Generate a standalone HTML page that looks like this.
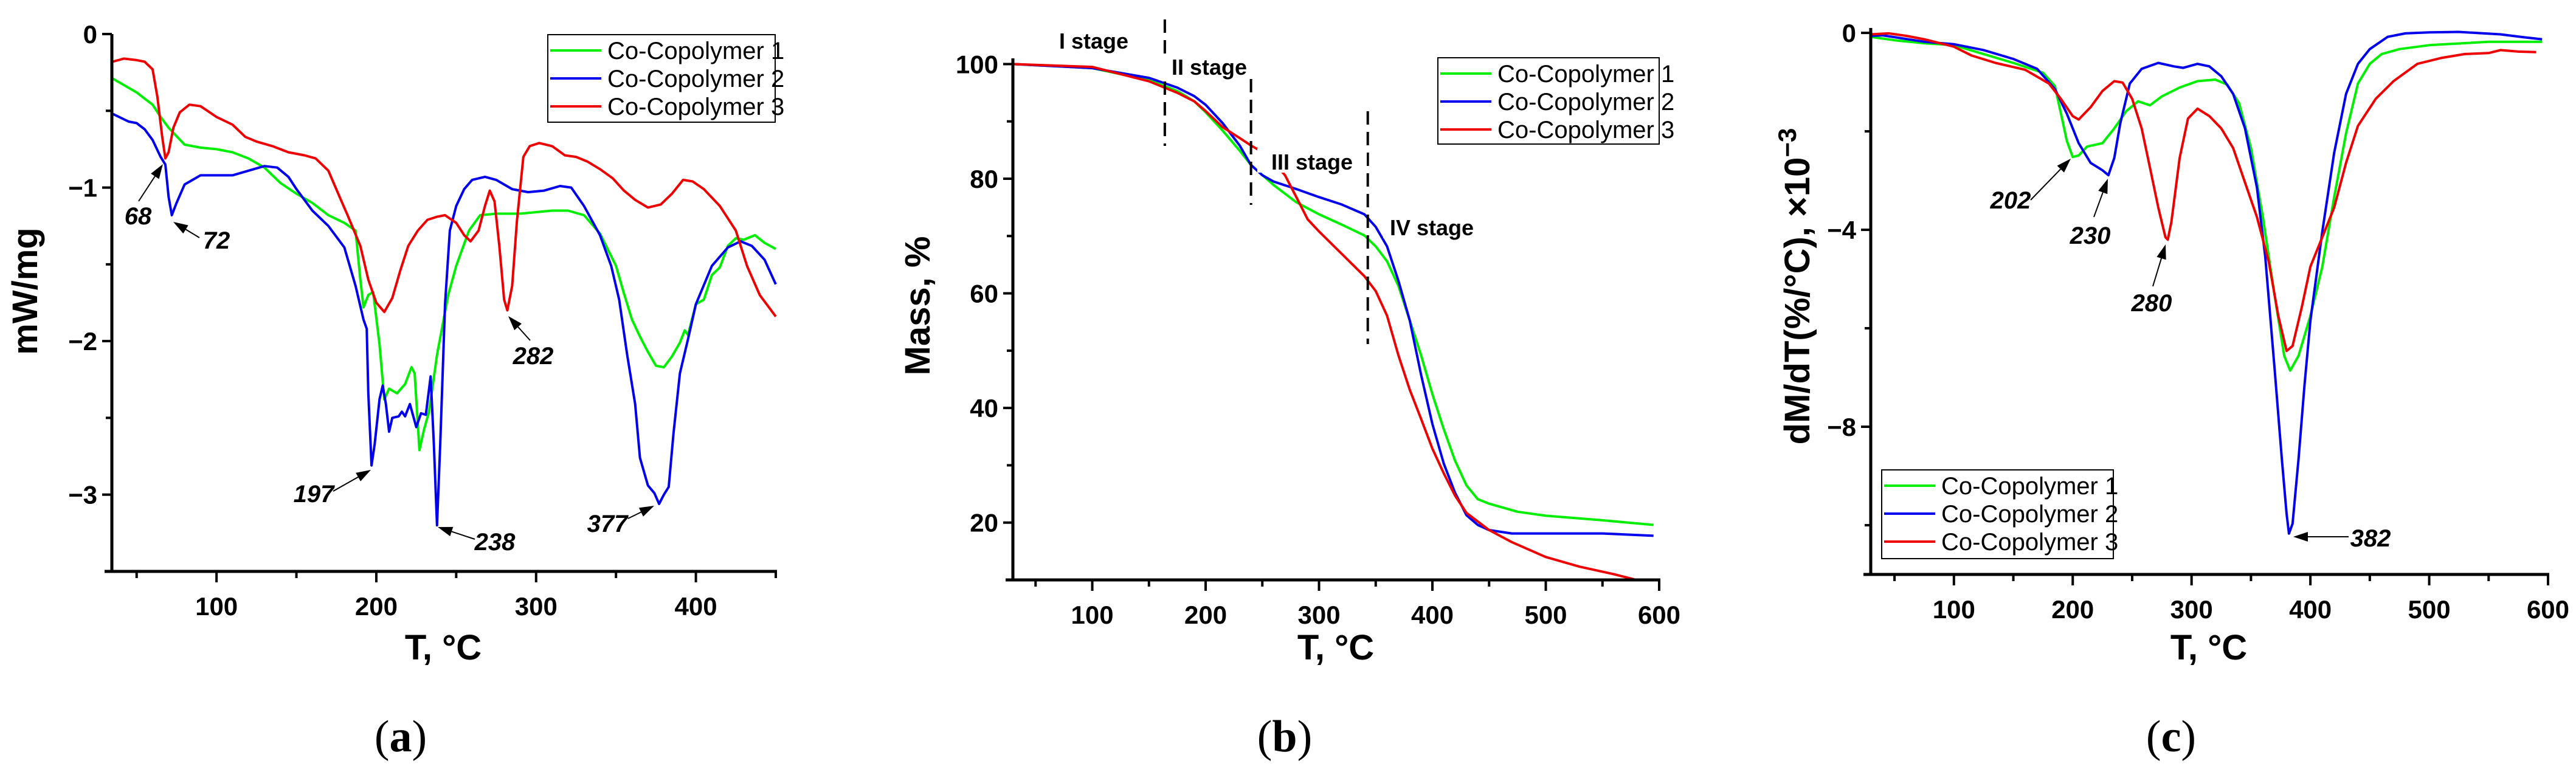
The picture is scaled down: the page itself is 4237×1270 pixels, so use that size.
<!DOCTYPE html>
<html><head><meta charset="utf-8"><style>
html,body{margin:0;padding:0;background:#fff;}
svg{display:block;}
.tick{font-family:"Liberation Sans Narrow","Liberation Sans",sans-serif;font-weight:bold;font-size:42px;fill:#000;}
.title{font-family:"Liberation Sans",sans-serif;font-weight:bold;font-size:58px;fill:#000;}
.leg{font-family:"Liberation Sans Narrow","Liberation Sans",sans-serif;font-size:40px;fill:#000;}
.ann{font-family:"Liberation Sans Narrow","Liberation Sans",sans-serif;font-weight:bold;font-style:italic;font-size:40px;fill:#000;}
.stage{font-family:"Liberation Sans",sans-serif;font-weight:bold;font-size:36px;fill:#000;}
.cap{font-family:"Liberation Serif",serif;font-size:74px;fill:#000;}
</style></head><body>
<svg id="fig" width="4237" height="1270" viewBox="0 0 4237 1270" xmlns="http://www.w3.org/2000/svg"></svg>
<script>
// ---- Panel (a) DSC data ----
const aT_g=[35,50,60,65,70,80,90,100,110,120,130,140,150,160,170,180,187,190,192,195,198,202,205,208,213,218,222,224,227,230,233,238,245,250,258,265,275,290,300,310,320,330,340,350,355,360,365,370,375,380,385,390,393,395,400,405,410,415,420,425,430,437,443,450];
const aV_g=[-0.29,-0.38,-0.46,-0.54,-0.61,-0.72,-0.74,-0.75,-0.77,-0.81,-0.87,-0.97,-1.04,-1.10,-1.18,-1.23,-1.28,-1.60,-1.78,-1.70,-1.68,-2.02,-2.38,-2.31,-2.34,-2.28,-2.17,-2.21,-2.71,-2.57,-2.46,-2.09,-1.70,-1.51,-1.28,-1.18,-1.17,-1.17,-1.16,-1.15,-1.15,-1.18,-1.30,-1.51,-1.69,-1.86,-1.97,-2.07,-2.16,-2.17,-2.10,-2.01,-1.93,-1.96,-1.76,-1.73,-1.57,-1.52,-1.38,-1.33,-1.34,-1.31,-1.36,-1.40];
const aT_b=[35,45,50,55,60,65,68,70,72,75,80,90,100,110,120,130,138,145,150,160,170,180,187,192,194,195,197,199,202,204,206,208,210,214,216,218,221,225,228,231,234,236,238,240,243,246,250,255,260,268,275,285,295,305,315,322,330,340,347,352,357,362,365,370,374,377,380,383,386,390,395,400,410,420,428,435,443,450];
const aV_b=[-0.52,-0.57,-0.58,-0.62,-0.69,-0.80,-0.85,-1.06,-1.18,-1.10,-0.98,-0.92,-0.92,-0.92,-0.89,-0.86,-0.87,-0.93,-1.01,-1.15,-1.25,-1.39,-1.64,-1.86,-1.92,-2.34,-2.81,-2.67,-2.38,-2.29,-2.41,-2.59,-2.50,-2.49,-2.46,-2.49,-2.41,-2.56,-2.47,-2.48,-2.23,-2.67,-3.20,-2.67,-1.76,-1.28,-1.12,-1.01,-0.95,-0.93,-0.95,-1.01,-1.03,-1.02,-0.99,-1.00,-1.12,-1.31,-1.51,-1.73,-2.09,-2.41,-2.76,-2.94,-2.99,-3.06,-3.00,-2.95,-2.60,-2.21,-1.99,-1.76,-1.51,-1.39,-1.35,-1.38,-1.47,-1.63];
const aT_r=[35,42,50,55,60,63,66,68,70,73,77,83,90,100,110,118,125,135,145,155,162,170,177,182,190,195,200,205,210,215,220,226,232,238,243,250,255,259,264,268,271,274,277,280,282,285,288,292,296,302,310,318,325,332,340,348,355,362,370,378,385,392,398,405,415,425,432,440,450];
const aV_r=[-0.18,-0.16,-0.17,-0.18,-0.23,-0.41,-0.67,-0.81,-0.77,-0.61,-0.51,-0.46,-0.47,-0.54,-0.59,-0.67,-0.70,-0.73,-0.77,-0.79,-0.81,-0.89,-1.06,-1.18,-1.38,-1.60,-1.75,-1.81,-1.72,-1.54,-1.38,-1.28,-1.21,-1.19,-1.18,-1.23,-1.31,-1.35,-1.28,-1.12,-1.02,-1.09,-1.38,-1.73,-1.80,-1.64,-1.22,-0.80,-0.73,-0.71,-0.73,-0.79,-0.80,-0.83,-0.88,-0.94,-1.02,-1.08,-1.13,-1.11,-1.04,-0.95,-0.96,-1.01,-1.12,-1.28,-1.51,-1.70,-1.84];
const aXTicks=[100,200,300,400];
const aYTicks=[0,-1,-2,-3];
const aYTickLabels=["0","\u22121","\u22122","\u22123"];

// ---- Panel (b) TGA data ----
const bT_g=[30,100,150,175,190,200,215,230,240,260,280,300,320,340,350,360,370,380,390,400,410,420,430,440,450,475,500,550,595];
const bV_g=[100,99.3,97.2,95.3,93.5,91.6,88.4,84.9,82.4,78.9,75.9,73.8,72.0,70.1,68.2,65.6,61.3,55.3,49.2,42.4,36.3,30.8,26.5,24.1,23.3,21.9,21.2,20.4,19.6];
const bT_b=[30,100,150,175,190,200,215,230,240,250,260,280,300,320,340,350,360,370,380,390,400,410,420,430,440,450,470,500,550,595];
const bV_b=[100,99.3,97.6,95.9,94.4,92.9,89.7,85.8,82.4,80.6,79.5,78.2,76.8,75.5,73.8,71.6,68.2,62.2,55.3,45.8,37.2,30.3,25.2,21.3,19.6,18.7,18.1,18.1,18.1,17.7];
const bT_r=[30,100,150,175,190,200,215,230,240,255,270,280,290,300,320,340,350,360,370,380,390,400,410,420,430,450,470,500,530,560,578];
const bV_r=[100,99.5,97.0,95.0,93.5,91.8,89.0,87.1,85.8,84.1,80.6,76.8,72.9,70.8,66.9,63.0,60.4,56.1,49.2,43.2,38.1,32.9,28.6,24.7,21.7,18.7,16.6,14.0,12.3,11.0,10.1];
const bXTicks=[100,200,300,400,500,600];
const bYTicks=[100,80,60,40,20];
const bStageT=[164,240,343];

// ---- Panel (c) DTG data ----
const cT_g=[30,50,75,100,125,150,175,185,190,195,200,205,212,225,235,245,255,265,275,290,305,320,330,340,350,360,370,378,383,390,400,410,420,430,440,450,460,475,500,550,595];
const cV_g=[-0.08,-0.15,-0.21,-0.25,-0.43,-0.61,-0.81,-1.08,-1.63,-2.19,-2.52,-2.49,-2.31,-2.24,-1.94,-1.59,-1.39,-1.47,-1.29,-1.11,-0.98,-0.95,-1.05,-1.43,-2.34,-3.74,-5.35,-6.56,-6.86,-6.56,-5.75,-4.75,-3.34,-2.04,-1.03,-0.63,-0.43,-0.33,-0.25,-0.18,-0.18];
const cT_b=[30,40,75,100,125,150,170,185,195,205,215,225,230,235,240,248,258,272,285,293,305,315,325,335,345,355,362,370,376,380,382,385,390,395,400,410,420,430,440,450,465,480,500,525,560,580,595];
const cV_b=[-0.06,-0.05,-0.18,-0.23,-0.35,-0.53,-0.73,-1.14,-1.64,-2.24,-2.64,-2.79,-2.89,-2.54,-1.84,-1.03,-0.73,-0.61,-0.68,-0.71,-0.63,-0.68,-0.88,-1.24,-1.94,-3.14,-4.55,-6.86,-8.66,-9.77,-10.17,-9.97,-8.66,-7.16,-5.85,-4.04,-2.44,-1.24,-0.63,-0.33,-0.08,-0.01,0.01,0.02,-0.03,-0.09,-0.13];
const cT_r=[30,45,60,75,100,115,135,160,180,190,200,205,215,225,235,242,250,258,265,272,278,280,283,290,297,305,315,325,335,345,355,365,373,380,385,393,400,410,420,430,440,455,470,490,510,530,550,560,575,590];
const cV_r=[-0.03,-0.01,-0.06,-0.13,-0.28,-0.46,-0.61,-0.75,-1.03,-1.34,-1.69,-1.76,-1.51,-1.18,-0.98,-1.01,-1.34,-1.94,-2.74,-3.55,-4.15,-4.20,-3.84,-2.54,-1.74,-1.54,-1.69,-1.94,-2.34,-3.04,-3.74,-4.65,-5.75,-6.46,-6.36,-5.55,-4.75,-4.15,-3.55,-2.64,-1.89,-1.34,-0.98,-0.63,-0.51,-0.43,-0.41,-0.35,-0.38,-0.39];
const cXTicks=[100,200,300,400,500,600];
const cYTicks=[0,-4,-8];
const cYTickLabels=["0","\u22124","\u22128"];

const legendNames=["Co-Copolymer 1","Co-Copolymer 2","Co-Copolymer 3"];
const COLORS=["#00ee00","#0000ee","#ee0000"];
const NS="http://www.w3.org/2000/svg";
const svg=document.getElementById('fig');
function el(tag,attrs,parent,text){const e=document.createElementNS(NS,tag);for(const k in attrs)e.setAttribute(k,attrs[k]);if(text!==undefined)e.textContent=text;(parent||svg).appendChild(e);return e;}
function scale(d0,d1,p0,p1){return v=>p0+(v-d0)*(p1-p0)/(d1-d0);}

function panel(cfg){
  const g=el('g',{});
  
  
  const X=scale(cfg.xd[0],cfg.xd[1],cfg.L,cfg.R), Y=scale(cfg.yd[0],cfg.yd[1],cfg.B,cfg.T);
  // series
  cfg.series.forEach((s,i)=>{
    const p=el('polyline',{points:s[0].map((t,j)=>X(t).toFixed(1)+','+Y(s[1][j]).toFixed(1)).join(' '),fill:'none',stroke:COLORS[i],'stroke-width':4,'stroke-linejoin':'round'},g);
    
    
  });
  // axes
  const ax=el('path',{d:`M${cfg.L-12},${cfg.B} H${cfg.R+2} M${cfg.L},${cfg.B} V${cfg.T}`,stroke:'#000','stroke-width':5,fill:'none'},g);
  
  
  cfg.xt.forEach(t=>{
    el('line',{x1:X(t),x2:X(t),y1:cfg.B,y2:cfg.B+18,stroke:'#000','stroke-width':4},g);
    const tx=el('text',{x:X(t),y:cfg.B+72,'text-anchor':'middle',class:'tick'},g,String(t));
    
    
  });
  cfg.xminor.forEach(t=>el('line',{x1:X(t),x2:X(t),y1:cfg.B,y2:cfg.B+11,stroke:'#000','stroke-width':4},g));
  cfg.yt.forEach((t,i)=>{
    el('line',{x1:cfg.L-16,x2:cfg.L,y1:Y(t),y2:Y(t),stroke:'#000','stroke-width':4},g);
    const ty=el('text',{x:cfg.L-24,y:Y(t)+15,'text-anchor':'end',class:'tick'},g,cfg.ytl?cfg.ytl[i]:String(t));
    
    
  });
  cfg.yminor.forEach(t=>el('line',{x1:cfg.L-10,x2:cfg.L,y1:Y(t),y2:Y(t),stroke:'#000','stroke-width':4},g));
  // titles
  const xt=el('text',{x:cfg.xtx,y:1085,'text-anchor':'middle',class:'title'},g,'T, \u00B0C');
  
  
  const yt=el('text',{x:cfg.ytx,y:cfg.yty,'text-anchor':'middle',class:'title',transform:`rotate(-90 ${cfg.ytx} ${cfg.yty})`,dy:20},g);
  
  
  yt.innerHTML=cfg.ytitle;
  const cap=el('text',{x:cfg.capx,y:1236,'text-anchor':'middle',class:'cap'},g);
  cap.innerHTML='(<tspan font-weight="bold">'+cfg.cap+'</tspan>)';
  
  
  // legend
  const lg=el('g',{},g);
  
  
  const b=cfg.leg;
  el('rect',{x:b[0],y:b[1],width:b[2],height:b[3],fill:'#fff',stroke:'#000','stroke-width':2},lg);
  legendNames.forEach((n,i)=>{
    const yy=b[1]+26+i*46;
    el('line',{x1:b[0]+4,x2:b[0]+88,y1:yy,y2:yy,stroke:COLORS[i],'stroke-width':4},lg);
    const t=el('text',{x:b[0]+98,y:yy+14,class:'leg'},lg,n);
    
    
  });
  // annotations
  cfg.ann.forEach(a=>{
    const ag=el('g',{},g);
    
    
    const [tx,ty,x1,y1,x2,y2,lab]=a;
    const dx=x2-x1,dy=y2-y1,L=Math.hypot(dx,dy),ux=dx/L,uy=dy/L;
    const hx=x2-ux*24,hy=y2-uy*24;
    el('line',{x1:x1,y1:y1,x2:hx,y2:hy,stroke:'#000','stroke-width':2},ag);
    el('polygon',{points:`${x2},${y2} ${hx-uy*8},${hy+ux*8} ${hx+uy*8},${hy-ux*8}`,fill:'#000'},ag);
    el('text',{x:tx,y:ty+14,'text-anchor':'middle',class:'ann'},ag,lab);
  });
  return {g,X,Y};
}

panel({name:'panel-a-dsc',L:184,R:1276,T:56,B:940,xd:[34.5,450],yd:[-3.5,0],
  series:[[aT_g,aV_g],[aT_b,aV_b],[aT_r,aV_r]],xt:aXTicks,xminor:[50,150,250,350,450],yt:aYTicks,ytl:aYTickLabels,yminor:[-0.5,-1.5,-2.5],
  xtx:729,ytx:41,yty:479,ytitle:'mW/mg',capx:659,cap:'a',leg:[901,57,374,144],
  ann:[[227,355,228,331,268,270,'68'],[356,395,328,391,285,365,'72'],[516,812,548,808,610,773,'197'],[814,891,781,887,720,867,'238'],[877,585,872,560,836,520,'282'],[999,861,1033,853,1076,832,'377']]});

const pb=panel({name:'panel-b-tga',L:1666,R:2729,T:96,B:954,xd:[30,600],yd:[10,101],
  series:[[bT_g,bV_g],[bT_b,bV_b],[bT_r,bV_r]],xt:bXTicks,xminor:[50,150,250,350,450,550],yt:bYTicks,yminor:[90,70,50,30],
  xtx:2197,ytx:1509,yty:503,ytitle:'Mass, %',capx:2113,cap:'b',leg:[2365,95,364,142],ann:[]});
// stage dashed lines
const stY=[[32,240],[130,337],[183,566]];
bStageT.forEach((t,i)=>{
  const d=el('line',{x1:pb.X(t),x2:pb.X(t),y1:stY[i][0],y2:stY[i][1],stroke:'#000','stroke-width':4,'stroke-dasharray':'22,12'},pb.g);
  
  
});
[['I stage',1799,67],['II stage',1989,110],['III stage',2158,266],['IV stage',2355,374]].forEach(s=>{
  el('rect',{x:s[1]-(s[0].length*10),y:s[2]-22,width:s[0].length*20,height:40,fill:'#fff'},pb.g);
  const t=el('text',{x:s[1],y:s[2]+13,'text-anchor':'middle',class:'stage'},pb.g,s[0]);
  
  
});

panel({name:'panel-c-dtg',L:3077,R:4191,T:46,B:945,xd:[30,600],yd:[-11,0.1],
  series:[[cT_g,cV_g],[cT_b,cV_b],[cT_r,cV_r]],xt:cXTicks,xminor:[50,150,250,350,450,550],yt:cYTicks,ytl:cYTickLabels,yminor:[-2,-6,-10],
  xtx:3633,ytx:2956,yty:471,ytitle:'dM/dT(%/\u00B0C), \u00D710<tspan dy="-22" font-size="42">\u22123</tspan>',capx:3571,cap:'c',leg:[3095,773,381,146],
  ann:[[3307,329,3340,329,3406,261,'202'],[3438,387,3444,357,3467,294,'230'],[3539,498,3541,471,3562,402,'280'],[3899,885,3863,883,3772,883,'382']]});
</script>
</body></html>
